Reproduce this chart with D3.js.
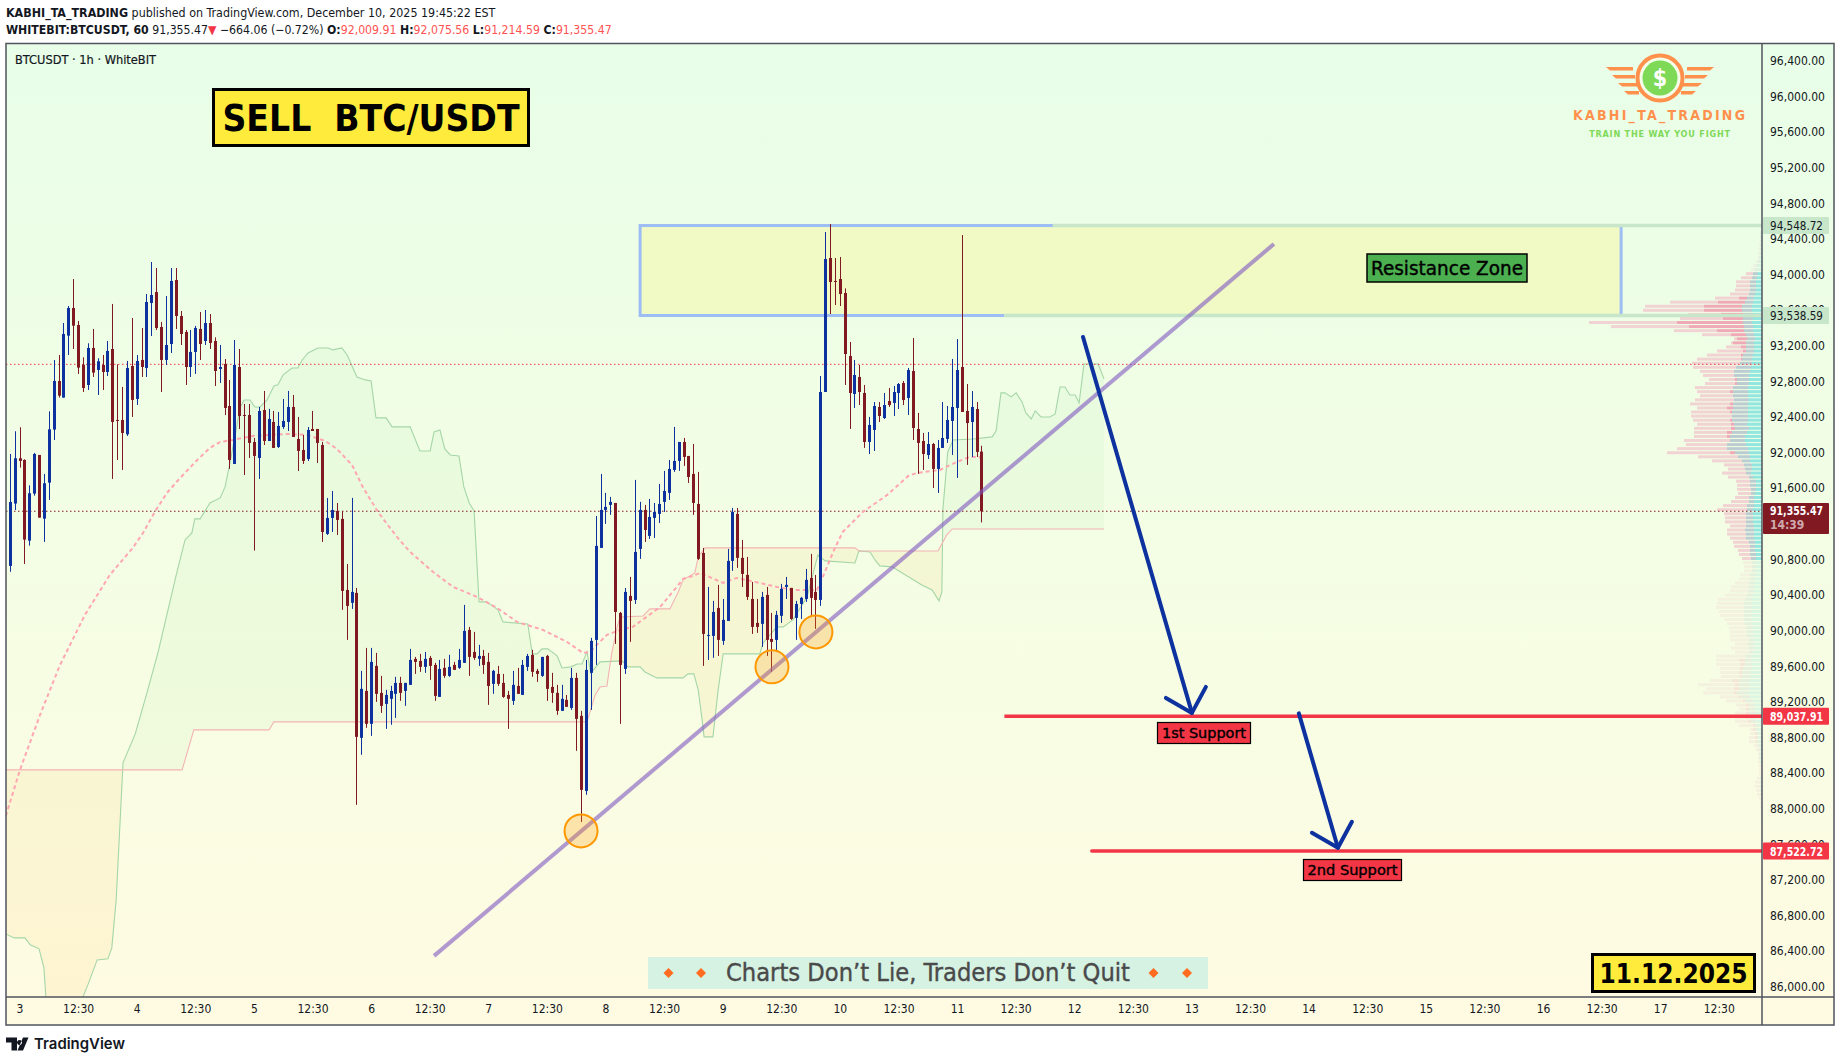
<!DOCTYPE html>
<html lang="en">
<head>
<meta charset="utf-8">
<title>BTCUSDT 1h</title>
<script src="https://d3js.org/d3.v7.min.js"></script>
<style>
  html, body { margin: 0; padding: 0; background: #fff; }
  svg { display: block; }
  text { font-family: "DejaVu Sans Condensed", "DejaVu Sans", sans-serif; }
</style>
</head>
<body>
<div id="chart"></div>
<script>
"use strict"

// hourly candles, first one is bar -2 (bar 0 = day 3 00:00)
var firstBar = -2;
var candleOpen = [90726,91426,91935,91916,91010,91538,91972,91257,91661,92257,92803,92616,93312,93623,93432,92986,92758,93174,92927,92983,
  92904,93162,92365,92365,92204,92971,92601,93039,92949,93679,93802,93409,93039,93218,93937,93533,93353,92960,93129,93387,
  93252,93454,93252,92938,92994,92522,91871,92960,92421,92421,92118,91938,92477,92129,92343,92062,92286,92343,92511,92152,
  92028,91927,92264,92264,92084,91085,91265,91343,91254,90456,90311,90423,88795,89322,88952,89603,89300,89176,89233,89289,
  89412,89322,89390,89682,89659,89592,89693,89614,89255,89581,89491,89614,89581,89637,90007,89760,89682,89715,89648,89401,
  89513,89412,89277,89210,89378,89277,89592,89727,89547,89491,89715,89367,89300,89098,89221,89131,89468,89042,88199,89525,
  89895,90928,91355,91411,91433,90198,89569,90389,90344,90917,91355,91063,91265,91310,91445,91546,91804,91905,92118,91961,
  91759,91422,90872,89940,89940,90254,89884,90108,90782,91310,90816,90625,90355,90086,90075,90400,89906,89895,90165,90490,
  90479,90142,90299,90355,90591,90434,90344,92679,94184,93926,93948,93791,93084,92657,92848,92668,92118,92253,92511,92387,
  92578,92556,92668,92780,92612,92915,92264,92129,91972,92095,91815,92051,92152,92354,92500,92960,92466,92342,92488,92009.91];
var candleHigh = [91983,92238,92283,91923,91631,91995,91972,91759,92462,93039,93095,93454,93645,93948,93477,93069,93226,93387,93058,93095,
  93252,93668,92990,92736,93028,93510,93095,93398,93780,94139,94072,93466,93757,94072,94072,93589,93376,93376,93421,93578,
  93600,93555,93293,93207,93050,92814,93263,93162,92545,92545,92163,92511,92691,92489,92466,92455,92601,92691,92646,92399,
  92197,92286,92466,92264,92118,91489,91568,91433,91340,90748,91490,90479,89547,89805,89805,89749,89491,89334,89379,89480,
  89480,89412,89794,89704,89738,89760,89715,89637,89670,89682,89727,89648,89794,90288,90041,89985,89839,89783,89749,89558,
  89603,89513,89322,89547,89581,89670,89738,89783,89569,89704,89727,89525,89390,89390,89277,89581,89525,89098,89670,89918,
  91287,91759,91546,91501,91433,90209,90479,90602,91692,91445,91411,91478,91433,91647,91793,91916,92287,92118,92163,91961,
  92096,91782,90928,90490,90333,90513,90355,90917,91377,91377,91018,90827,90546,90355,90434,90490,90198,90221,90524,90602,
  90479,90333,90378,90692,90861,90625,92859,94476,94566,94184,94195,93843,93241,93039,92983,92758,92399,92567,92567,92668,
  92724,92747,92780,92803,92949,93286,92444,92219,92230,92107,92140,92567,92522,93050,93274,94442,92769,92690,92567,92075.56];
var candleLow = [90660,91354,91830,90748,90954,91515,91268,90995,91467,92140,92616,92616,93095,93162,92882,92679,92702,92848,92646,92702,
  92859,91703,91916,91804,92185,92399,92533,92848,92848,93308,93376,92679,92983,93117,93387,93207,92758,92848,92882,93039,
  93207,93162,92747,92781,92421,91815,91871,92264,91747,91938,90898,91703,92084,92129,92051,92051,92264,92241,92174,91792,
  91871,91905,92241,91882,90995,91074,91107,91074,90232,89895,90243,88042,88604,88907,88817,89199,89075,88896,88941,89019,
  89210,89154,89390,89513,89536,89525,89446,89210,89255,89468,89480,89558,89569,89637,89491,89670,89603,89513,89165,89289,
  89378,89244,88896,89165,89289,89277,89547,89480,89423,89480,89210,89188,89053,89098,89143,89109,88649,87850,88155,89109,
  89614,90928,91198,91299,89850,88952,89513,89873,90299,90805,90995,91029,91040,91209,91332,91467,91782,91793,91849,91658,
  91299,90793,89603,89670,89693,89715,89839,90108,90670,90704,90490,90344,89962,89974,89816,89715,89536,89760,90086,90355,
  90120,89895,90131,90322,90153,90019,90277,92679,93555,93656,93645,92758,92264,92500,92533,92051,91983,92017,92342,92376,
  92511,92410,92488,92533,92421,92140,91759,91803,91927,91601,91545,92051,92107,91972,91714,92455,91860,91949,91949,91214.59];
var candleClose = [91444,91935,91905,91021,91542,91983,91268,91654,92260,92803,92638,93331,93623,93424,92953,92724,93174,92897,93024,92904,
  93140,92343,92354,92219,92949,92590,93028,92960,93690,93769,93398,93039,93207,93926,93533,93331,92960,93129,93398,93218,
  93454,93230,92915,92960,92500,91916,92983,92410,92410,92107,91961,92466,92129,92376,92051,92298,92354,92511,92174,92017,
  91905,92253,92241,92107,91107,91265,91354,91242,90445,90277,90434,88806,89345,88952,89648,89289,89154,89277,89322,89412,
  89300,89412,89670,89648,89592,89682,89603,89266,89569,89491,89592,89558,89670,89996,89704,89693,89715,89614,89378,89547,
  89401,89255,89233,89390,89289,89614,89715,89536,89513,89704,89345,89300,89098,89233,89143,89468,89008,88211,89558,89884,
  90951,91355,91389,91445,90209,89614,90434,90333,90883,91355,91130,91276,91332,91422,91568,91815,91905,92118,91950,91725,
  91433,90805,89962,89951,90209,89895,90120,90782,91332,90816,90636,90378,90041,90041,90378,89895,89873,90176,90468,90513,
  90131,90299,90367,90569,90367,90344,92679,94173,93915,93915,93780,93106,92668,92870,92679,92118,92309,92522,92410,92533,
  92533,92679,92769,92589,92926,92275,92107,91983,92095,91815,92051,92163,92365,92511,92926,92455,92331,92511,92006,91340];

// cloud edges and the dashed average, [bar, price]
var spanA = [[-2.8,86593],[-1.1,86548],[1.1,86548],[2.2,86470],[4,86425],[5,86211],[5.4,85886],[6.2,85740],[10.3,85683],[13,85886],[14,86020],[15.9,86301],[18.1,86313],[18.9,86436],[19.8,86975],[21.2,88514],[23.7,88839],[26.1,89300],[28.4,89760],[32.1,90625],[33.9,91018],[35.3,91096],[35.9,91254],[37,91254],[39,91433],[41.1,91490],[42.1,91613],[43.1,91883],[44.1,92175],[45.2,92511],[46,92590],[47.2,92590],[48.2,92511],[49.3,92511],[50.7,92590],[52.1,92747],[52.9,92759],[54,92871],[55.8,92949],[57,92949],[57.9,93039],[59.1,93118],[61.1,93174],[63.2,93174],[64.2,93152],[66,93174],[67.1,93095],[69.1,92848],[70.8,92815],[72,92803],[73,92388],[75.1,92388],[76.3,92287],[80,92287],[82,92017],[84.1,92017],[84.9,92231],[86.1,92253],[87.1,92040],[88.2,91972],[90,91961],[91,91613],[92.1,91433],[93.1,91343],[94.1,90322],[95.7,90322],[98,90232],[99,90097],[104.1,90074],[105,89738],[106,89738],[107,89794],[108.2,89794],[110.1,89715],[111.1,89580],[112.9,89592],[114.2,89625],[115.2,89625],[116.2,89760],[117,89524],[118.9,89648],[123.4,89659],[124.6,89592],[127.1,89592],[128.1,89535],[130.5,89468],[135.9,89468],[136.9,89513],[138.1,89513],[139,89333],[139.8,88996],[140.2,88806],[142,88806],[142.4,88996],[143,89300],[144.1,89738],[151.6,89738],[152.3,89861],[155.1,90041],[156.4,90041],[158.4,90119],[161.3,90378],[163.5,90849],[165,90782],[171.1,90759],[171.9,90894],[174.2,90883],[175.2,90793],[176.2,90726],[178.7,90715],[184.8,90512],[186.9,90456],[188.3,90333],[188.9,90434],[189.1,91355],[190.1,92006],[191.2,92141],[195.3,92152],[199.2,92175],[200,92242],[201,92669],[201.8,92669],[203.1,92624],[204.1,92669],[205.3,92568],[206.1,92444],[207.2,92377],[208,92467],[209.2,92399],[211,92399],[212.1,92433],[213.1,92736],[214.1,92736],[215.1,92646],[216.2,92646],[217,92556],[218,92994],[220.9,92994],[222.1,92826]];
var spanB = [[-2.8,88435],[33.3,88435],[35.7,88884],[51.1,88884],[52.1,88974],[115.8,88974],[116.4,89007],[117.9,89277],[118.9,89367],[120.3,89378],[121.3,89749],[122.4,90041],[123,90153],[127.7,90164],[129.1,90243],[133.2,90243],[134.9,90434],[135.9,90569],[138.3,90647],[139,90827],[140.4,90928],[171.1,90928],[171.9,90894],[188.1,90894],[189.9,91074],[191,91141],[222.1,91141]];
var baseLine = [[-2.8,87918],[0.1,88435],[4.2,89052],[8.3,89614],[13.4,90176],[18.5,90625],[23.2,90928],[25.3,91096],[27.7,91332],[30.2,91546],[32.9,91714],[36.4,91916],[39,92051],[41.1,92118],[43.7,92141],[47.8,92186],[54.8,92208],[58.9,92197],[62.6,92130],[65,92040],[68.1,91860],[70.3,91613],[73.4,91332],[77.3,91051],[80,90883],[84.7,90658],[88.8,90490],[93.7,90378],[97.8,90254],[101.9,90097],[107.2,90007],[112.1,89872],[115.4,89749],[116.8,89760],[120.3,89951],[123,90007],[125.6,90041],[131.2,90265],[134.6,90490],[135.9,90580],[137.9,90614],[139.4,90647],[144.1,90535],[146.9,90591],[151.6,90535],[155.1,90490],[158.4,90456],[163.3,90456],[164.5,90602],[167,90928],[168.6,91108],[172.7,91332],[177.7,91523],[182,91736],[183.8,91770],[188.5,91804],[192,91894],[194.6,91950],[196.7,91950],[197,91900]];

// volume profile rows, top row first
var profileTopPrice = 94465, profileStep = 45.7;
var profileTotal = [2,2,2,3,3,4,4,6,9,11,16,21,26,26,27,32,47,92,117,119,74,82,173,151,88,60,28,31,36,45,55,65,70,69,62,59,53,57,67,65,62,67,72,65,71,71,69,65,68,68,68,78,76,85,95,64,50,38,34,40,34,26,25,25,24,27,31,39,45,38,37,37,32,35,35,32,29,28,24,23,20,19,18,18,22,23,27,31,32,37,44,45,46,43,42,38,35,33,32,32,32,27,31,27,46,46,46,42,42,41,52,64,56,59,42,36,26,23,27,27,27,23,12,12,13,13,8,6,4,4,4,3,3,3,5,7,7,6,5,3,2,2,1,1,1,1];
var profileBuy = [1,1,1,1,1,1,2,2,3,3,4,5,6,6,6,7,8,9,10,10,9,9,10,9,9,8,7,8,8,8,9,10,10,11,12,13,13,13,14,14,14,13,14,14,14,14,14,15,13,15,17,17,16,14,13,12,12,10,10,11,9,6,6,6,7,8,8,8,9,9,9,9,8,8,8,8,7,7,7,6,6,6,6,6,7,7,8,8,8,9,10,10,10,10,10,10,10,9,9,9,8,8,8,8,10,10,10,10,11,11,13,12,12,14,12,9,7,7,7,7,6,4,4,3,3,3,2,2,2,2,2,1,1,1,1,1,1,1,1,1,1,1,1,1,1,1];
var profileNeutral = [1,1,1,1,1,1,1,2,3,4,5,5,6,6,6,6,7,8,10,10,10,10,9,9,9,8,8,8,8,8,10,10,12,15,16,15,12,12,15,15,15,15,15,15,16,16,16,13,14,15,15,15,19,21,14,12,8,8,7,5,4,6,6,5,4,5,5,7,6,7,7,7,8,9,8,8,6,5,5,6,5,4,4,4,5,5,5,5,6,6,7,8,8,8,8,8,7,7,6,6,5,6,5,5,7,7,7,9,9,9,10,11,10,11,9,8,6,6,6,6,5,3,3,2,2,2,2,1,1,1,0,0,0,0,1,1,1,1,1,0,0,0,0,0,0,0];
var profileStrong = [0,0,0,0,0,0,0,0,0,0,0,0,0,0,0,0,8,27,38,38,22,20,66,55,27,15,10,13,5,3,2,1,0,0,0,0,2,2,0,3,0,0,3,6,2,0,2,3,4,5,3,0,0,0,5,0,0,0,0,0,0,0,0,0,0,0,0,0,0,0,0,0,0,0,0,0,0,0,0,0,0,0,0,0,0,0,0,0,0,0,0,0,0,0,0,0,0,0,0,0,0,0,0,0,0,6,5,3,3,2,7,4,6,3,2,2,3,3,3,3,3,2,2,2,2,1,0,0,0,0,0,0,0,0,0,0,0,0,0,0,0,0,0,0,0,0];

// axis ticks
var priceTicks = [86000,86400,86800,87200,87600,88000,88400,88800,89200,89600,90000,90400,90800,91200,91600,92000,92400,92800,93200,93600,94000,94400,94800,95200,95600,96000,96400];
var timeLabels = ["3","12:30","4","12:30","5","12:30","6","12:30","7","12:30","8","12:30","9","12:30","10","12:30","11","12:30","12","12:30","13","12:30","14","12:30","15","12:30","16","12:30","17","12:30"];
var timeBars = [0,12,24,36,48,60,72,84,96,108,120,132,144,156,168,180,192,204,216,228,240,252,264,276,288,300,312,324,336,348];

// levels and drawings
var lastPrice = 91355.47, lastLine = 91340, alertPrice = 92990;
var zoneTop = 94548.72, zoneBottom = 93538.59, firstSupport = 89037.91, secondSupport = 87522.72;
var zoneBars = [127.1, 328], zoneTopFrom = 211.6, zoneBottomFrom = 201.6;
var firstSupportFrom = 201.7, secondSupportFrom = 219.6;
var trendLine = [[84.9,86346],[256.9,94342]];
var touchPoints = [[115,87750],[154.1,89592],[163.1,89985]];
var arrows = [[[217.8,93297],[240.1,89075]],[[262,89070],[270,87560]]];

var width = 1841, height = 1062;
var plot = {left: 6, top: 43.5, right: 1762, bottom: 997, outerRight: 1834, outerBottom: 1025};

var x = d3.scaleLinear().domain([0, 350]).range([19.5, 19.5 + 4.883 * 350]);
var y = d3.scaleLinear().domain([86000, 96400]).range([986.7, 60.7]);
var volume = d3.scaleLinear().domain([0, 173]).range([0, 173]);

var svg = d3.select("#chart").append("svg").attr("width", width).attr("height", height);
var defs = svg.append("defs");

var grad = defs.append("linearGradient").attr("id", "bg").attr("x1", 0).attr("y1", 0).attr("x2", 0).attr("y2", 1);
grad.append("stop").attr("offset", "0%").attr("stop-color", "#e8fee8");
grad.append("stop").attr("offset", "50%").attr("stop-color", "#f3fee4");
grad.append("stop").attr("offset", "100%").attr("stop-color", "#fffbe2");

defs.append("clipPath").attr("id", "plotClip").append("rect")
  .attr("x", plot.left).attr("y", plot.top)
  .attr("width", plot.right - plot.left).attr("height", plot.bottom - plot.top);

var lineOf = d3.line().x(d => x(d[0])).y(d => y(d[1]));

// clips used to fill between the two cloud edges
function halfPlane(id, pts, edge) {
  defs.append("clipPath").attr("id", id).append("path")
    .attr("d", d3.area().x(d => x(d[0])).y0(edge).y1(d => y(d[1]))(pts));
}
halfPlane("belowA", spanA, 2000);
halfPlane("belowB", spanB, 2000);

svg.append("rect").attr("x", plot.left).attr("y", plot.top)
  .attr("width", plot.outerRight - plot.left).attr("height", plot.outerBottom - plot.top)
  .attr("fill", "url(#bg)");

var chart = svg.append("g").attr("clip-path", "url(#plotClip)");

// cloud
chart.append("g").attr("clip-path", "url(#belowA)").append("path")
  .attr("d", d3.area().x(d => x(d[0])).y0(-1000).y1(d => y(d[1]))(spanB))
  .attr("fill", "#4caf50").attr("opacity", 0.045);
chart.append("g").attr("clip-path", "url(#belowB)").append("path")
  .attr("d", d3.area().x(d => x(d[0])).y0(-1000).y1(d => y(d[1]))(spanA))
  .attr("fill", "#ff9800").attr("opacity", 0.07);
chart.append("path").attr("d", lineOf(spanA)).attr("fill", "none")
  .attr("stroke", "#a5d6a7").attr("stroke-width", 1.1);
chart.append("path").attr("d", lineOf(spanB)).attr("fill", "none")
  .attr("stroke", "#f4b4b4").attr("stroke-width", 1.1);

// volume profile
var rows = chart.append("g");
profileTotal.forEach(function(total, k) {
  var rowY = y(profileTopPrice - k * profileStep) - 1.5;
  var buy = profileBuy[k], neutral = profileNeutral[k], strong = profileStrong[k];
  var rest = Math.max(0, total - buy - neutral - strong);
  var faded = k < 10 || k >= 81;
  var right = plot.right;
  var parts = [[buy, "#92e6e0"], [neutral, "#bccdd2"], [strong, "#f0a9b6"], [rest, "#f2d3d3"]];
  parts.forEach(function(p) {
    var w = volume(p[0]);
    right -= w;
    if (w > 0) {
      rows.append("rect").attr("x", right).attr("y", rowY).attr("width", w).attr("height", 3)
        .attr("fill", p[1]).attr("opacity", faded ? 0.28 : 1);
    }
  });
});

// dotted price lines
chart.append("line").attr("x1", plot.left).attr("x2", plot.right).attr("y1", y(alertPrice)).attr("y2", y(alertPrice))
  .attr("stroke", "#f23645").attr("stroke-width", 1).attr("stroke-dasharray", "1.5 2.5");
chart.append("line").attr("x1", plot.left).attr("x2", plot.right).attr("y1", y(lastLine)).attr("y2", y(lastLine))
  .attr("stroke", "#801922").attr("stroke-width", 1).attr("stroke-dasharray", "1.5 2.5");

// resistance zone
chart.append("rect").attr("x", x(zoneBars[0])).attr("y", y(zoneTop))
  .attr("width", x(zoneBars[1]) - x(zoneBars[0])).attr("height", y(zoneBottom) - y(zoneTop))
  .attr("fill", "#f1fac4").attr("stroke", "#9dbdf5").attr("stroke-width", 3);
chart.append("line").attr("x1", x(zoneTopFrom)).attr("x2", plot.right).attr("y1", y(zoneTop)).attr("y2", y(zoneTop))
  .attr("stroke", "#c8e6c9").attr("stroke-width", 3.5);
chart.append("line").attr("x1", x(zoneBottomFrom)).attr("x2", plot.right).attr("y1", y(zoneBottom)).attr("y2", y(zoneBottom))
  .attr("stroke", "#c8e6c9").attr("stroke-width", 3.5);

// dashed average
chart.append("path").attr("d", lineOf(baseLine)).attr("fill", "none")
  .attr("stroke", "#ffa6b2").attr("stroke-width", 2).attr("stroke-dasharray", "4 3");

// candles
var bars = candleOpen.map((o, i) => ({bar: firstBar + i, o: o, h: candleHigh[i], l: candleLow[i], c: candleClose[i]}));
var color = d => d.c >= d.o ? "#0d329f" : "#801922";
var candles = chart.append("g").selectAll("g").data(bars).enter().append("g");
candles.append("line")
  .attr("x1", d => Math.round(x(d.bar)) + 0.5).attr("x2", d => Math.round(x(d.bar)) + 0.5)
  .attr("y1", d => y(d.h)).attr("y2", d => y(d.l))
  .attr("stroke", color).attr("stroke-width", 1);
candles.append("rect")
  .attr("x", d => Math.round(x(d.bar)) - 1).attr("width", 3)
  .attr("y", d => y(Math.max(d.o, d.c)))
  .attr("height", d => Math.max(1, Math.abs(y(d.o) - y(d.c))))
  .attr("fill", color);

// support lines
chart.append("line").attr("x1", x(firstSupportFrom)).attr("x2", plot.right).attr("y1", y(firstSupport)).attr("y2", y(firstSupport))
  .attr("stroke", "#f23645").attr("stroke-width", 3.5);
chart.append("line").attr("x1", x(secondSupportFrom)).attr("x2", plot.right).attr("y1", y(secondSupport)).attr("y2", y(secondSupport))
  .attr("stroke", "#f23645").attr("stroke-width", 3.5).attr("stroke-linecap", "round");

// trend line and touches
chart.append("path").attr("d", lineOf(trendLine)).attr("fill", "none")
  .attr("stroke", "#7e57c2").attr("stroke-opacity", 0.6).attr("stroke-width", 4);
chart.append("g").selectAll("circle").data(touchPoints).enter().append("circle")
  .attr("cx", d => x(d[0])).attr("cy", d => y(d[1])).attr("r", 16.5)
  .attr("fill", "#ff9800").attr("fill-opacity", 0.25).attr("stroke", "#ff9800").attr("stroke-width", 2);

// arrows
arrows.forEach(function(a) {
  var tx = x(a[1][0]), ty = y(a[1][1]);
  var arrow = chart.append("g").attr("fill", "none").attr("stroke", "#0d329f")
    .attr("stroke-width", 4).attr("stroke-linecap", "round").attr("stroke-linejoin", "round");
  arrow.append("path").attr("d", lineOf(a));
  arrow.append("path").attr("d", "M" + (tx - 26) + "," + (ty - 15) + "L" + tx + "," + ty + "L" + (tx + 14) + "," + (ty - 26));
});

// frame
var frame = svg.append("g").attr("stroke", "#50535e").attr("stroke-width", 1.5);
frame.append("rect").attr("x", plot.left).attr("y", plot.top)
  .attr("width", plot.outerRight - plot.left).attr("height", plot.outerBottom - plot.top).attr("fill", "none");
frame.append("line").attr("x1", plot.right).attr("x2", plot.right).attr("y1", plot.top).attr("y2", plot.outerBottom);
frame.append("line").attr("x1", plot.left).attr("x2", plot.outerRight).attr("y1", plot.bottom).attr("y2", plot.bottom);

// axes
var yAxis = svg.append("g").attr("transform", "translate(1770,0)")
  .call(d3.axisRight(y).tickValues(priceTicks).tickFormat(d3.format(",.2f")).tickSize(0).tickPadding(0));
yAxis.select(".domain").remove();
yAxis.selectAll("text").attr("fill", "#131722").attr("font-size", 12).attr("font-family", "DejaVu Sans Condensed");

var xAxis = svg.append("g").attr("transform", "translate(0," + (plot.bottom + 7) + ")")
  .call(d3.axisBottom(x).tickValues(timeBars).tickFormat((d, i) => timeLabels[i]).tickSize(0).tickPadding(0));
xAxis.select(".domain").remove();
xAxis.selectAll("text").attr("fill", "#131722").attr("font-size", 12).attr("font-family", "DejaVu Sans Condensed");

// price chips
function chip(price, fill, textColor, bold) {
  var cy = y(price);
  svg.append("rect").attr("x", plot.right + 1).attr("y", cy - 8.5).attr("width", 66).attr("height", 17).attr("rx", 1).attr("fill", fill);
  svg.append("text").attr("x", 1770).attr("y", cy + 4.5).attr("fill", textColor).attr("font-size", 12)
    .attr("font-weight", bold ? "bold" : "normal")
    .attr("textLength", 53).attr("lengthAdjust", "spacingAndGlyphs")
    .text(d3.format(",.2f")(price));
}
chip(zoneTop, "#c8e6c9", "#131722", false);
chip(zoneBottom, "#c8e6c9", "#131722", false);
chip(firstSupport, "#f23645", "#fff", true);
chip(secondSupport, "#f23645", "#fff", true);

svg.append("rect").attr("x", plot.right + 1).attr("y", 503).attr("width", 66).attr("height", 31).attr("rx", 1).attr("fill", "#801922");
svg.append("text").attr("x", 1770).attr("y", 515).attr("fill", "#fff").attr("font-size", 12).attr("font-weight", "bold")
  .attr("textLength", 53).attr("lengthAdjust", "spacingAndGlyphs").text(d3.format(",.2f")(lastPrice));
svg.append("text").attr("x", 1770).attr("y", 529).attr("fill", "#fff").attr("fill-opacity", 0.65).attr("font-size", 12).attr("font-weight", "bold").text("14:39");

// header text
var head1 = svg.append("text").attr("x", 6).attr("y", 17).attr("font-size", 12.37).attr("fill", "#131722");
head1.append("tspan").attr("font-weight", "bold").text("KABHI_TA_TRADING");
head1.append("tspan").text(" published on TradingView.com, December 10, 2025 19:45:22 EST");

var head2 = svg.append("text").attr("x", 6).attr("y", 34).attr("font-size", 12.2).attr("fill", "#131722");
head2.append("tspan").attr("font-weight", "bold").text("WHITEBIT:BTCUSDT, 60");
head2.append("tspan").text("  91,355.47");
head2.append("tspan").attr("fill", "#f23645").text("▼");
head2.append("tspan").text(" −664.06 (−0.72%) ");
[["O:", "92,009.91"], ["H:", "92,075.56"], ["L:", "91,214.59"], ["C:", "91,355.47"]].forEach(function(p) {
  head2.append("tspan").attr("font-weight", "bold").text(p[0]);
  head2.append("tspan").attr("fill", "#ff5252").text(p[1] + " ");
});

svg.append("text").attr("x", 15).attr("y", 64).attr("font-size", 12.7).attr("stroke", "#131722").attr("stroke-width", 0.2).attr("fill", "#131722").text("BTCUSDT · 1h · WhiteBIT");

// boxes
function box(bx, by, bw, bh, fill, strokeW, label, size, weight, textW) {
  svg.append("rect").attr("x", bx).attr("y", by).attr("width", bw).attr("height", bh)
    .attr("fill", fill).attr("stroke", "#000").attr("stroke-width", strokeW);
  svg.append("text").attr("x", bx + bw / 2).attr("y", by + bh / 2).attr("dy", "0.36em").attr("text-anchor", "middle")
    .attr("font-size", size).attr("font-weight", weight).attr("fill", "#000")
    .attr("stroke", "#000").attr("stroke-width", weight == "bold" ? 0 : 0.35)
    .attr("textLength", textW).attr("lengthAdjust", "spacingAndGlyphs")
    .attr("xml:space", "preserve").text(label);
}
box(213.5, 89.5, 315, 56, "#ffeb3b", 3, "SELL  BTC/USDT", 38, "bold", 297);
box(1592.5, 954.5, 162, 37, "#ffeb3b", 3, "11.12.2025", 27, "bold", 148);
box(1367, 254, 160, 28, "#4caf50", 1.5, "Resistance Zone", 19, "normal", 152);
box(1157.5, 722.5, 93, 21, "#f23645", 1.2, "1st Support", 14.5, "normal", 84);
box(1303.5, 859.5, 98, 21, "#f23645", 1.2, "2nd Support", 14.5, "normal", 90);

// tagline
svg.append("rect").attr("x", 648).attr("y", 957).attr("width", 560).attr("height", 32).attr("fill", "#d5f2e3");
svg.append("text").attr("x", 928).attr("y", 981).attr("text-anchor", "middle").attr("font-size", 24).attr("fill", "#4a4a4a")
  .attr("stroke", "#4a4a4a").attr("stroke-width", 0.35)
  .attr("textLength", 404).attr("lengthAdjust", "spacingAndGlyphs").text("Charts Don’t Lie, Traders Don’t Quit");
[668.5, 701, 1153.5, 1187].forEach(function(dx) {
  svg.append("path").attr("d", d3.symbol().type(d3.symbolSquare).size(50)()).attr("transform", "translate(" + dx + ",973) rotate(45)").attr("fill", "#ff6b1f");
});

// logo, top right
var logo = svg.append("g").attr("transform", "translate(1660,78)");
[-1, 1].forEach(function(side) {
  [[-11, 54, 27], [-3, 48, 25], [5, 42, 23], [13, 36, 21]].forEach(function(s, i) {
    logo.append("path")
      .attr("d", "M" + side * s[2] + "," + s[0] + "L" + side * s[1] + "," + s[0] + "L" + side * (s[1] - 4) + "," + (s[0] + 3.5) + "L" + side * s[2] + "," + (s[0] + 3.5) + "Z")
      .attr("fill", "#ff914d");
  });
});
logo.append("circle").attr("r", 22.5).attr("fill", "#f3fee8").attr("stroke", "#ff914d").attr("stroke-width", 4);
logo.append("circle").attr("r", 17.5).attr("fill", "#7ed957");
logo.append("text").attr("y", 8).attr("text-anchor", "middle").attr("font-size", 23).attr("font-weight", "bold").attr("fill", "#fff").text("$");
svg.append("text").attr("x", 1660).attr("y", 120).attr("text-anchor", "middle").attr("font-size", 14).attr("font-weight", "bold")
  .attr("letter-spacing", 2).attr("textLength", 174).attr("fill", "#ff914d").text("KABHI_TA_TRADING");
svg.append("text").attr("x", 1660).attr("y", 136.5).attr("text-anchor", "middle").attr("font-size", 9).attr("font-weight", "bold")
  .attr("letter-spacing", 0.8).attr("fill", "#7ed957").text("TRAIN THE WAY YOU FIGHT");

// TradingView mark, bottom left
svg.append("path").attr("d", "M6,1037.5h11v13h-5.5v-8H6Z M19.5,1040a2.5,2.5 0 1 0 0.01,0Z M23,1037.5h5.5l-5.5,13h-5.5Z").attr("fill", "#131722");
svg.append("text").attr("x", 34).attr("y", 1049).attr("font-size", 15).attr("font-weight", 600).attr("fill", "#131722").attr("font-family", "Inter, sans-serif")
  .attr("style", "font-family: Inter, sans-serif").attr("textLength", 91).attr("lengthAdjust", "spacingAndGlyphs").text("TradingView");
</script>
</body>
</html>
